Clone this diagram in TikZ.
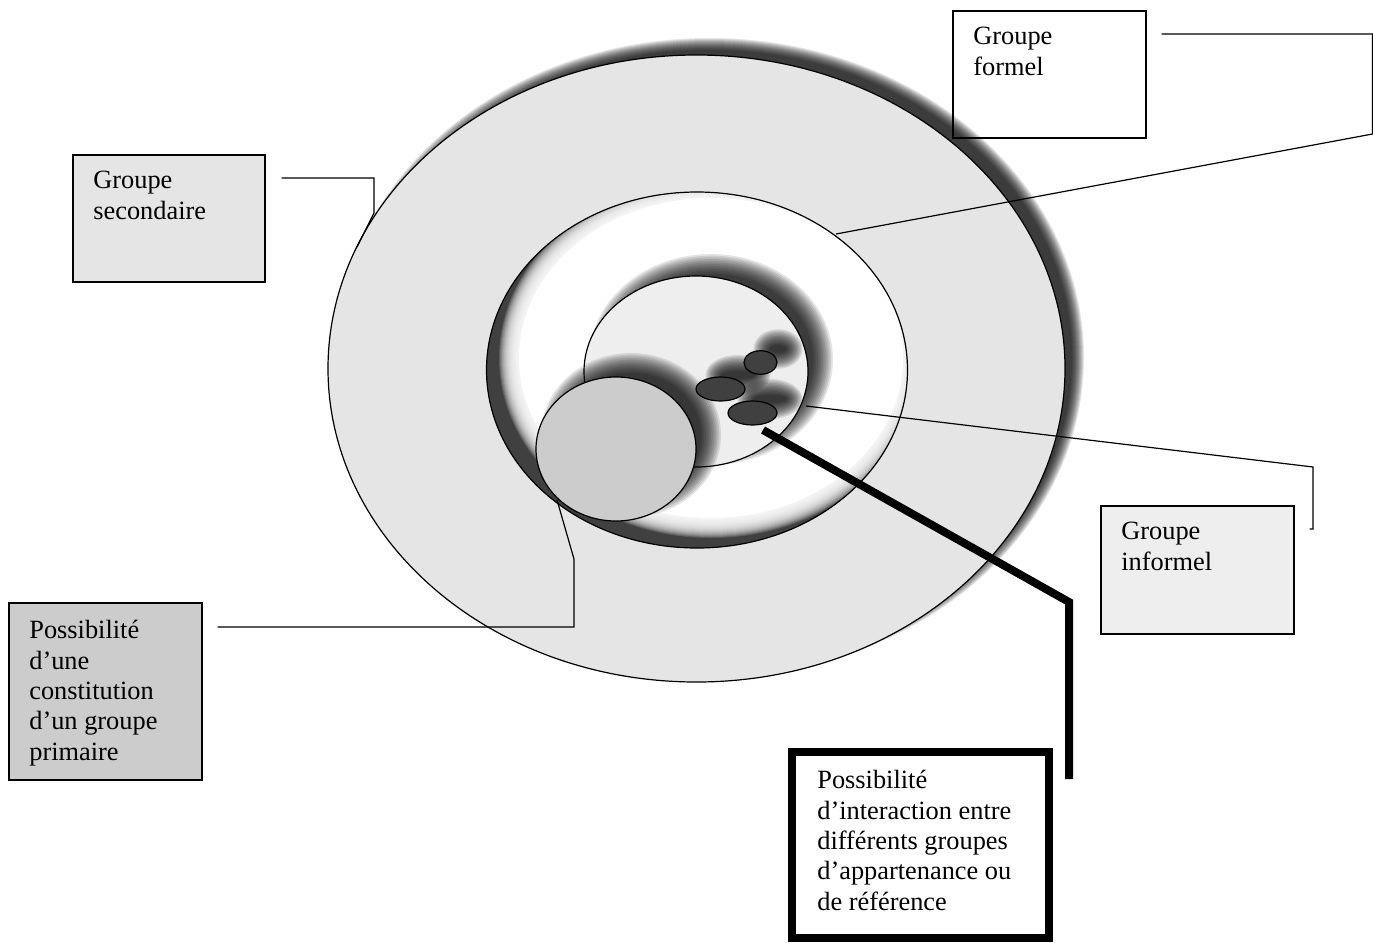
\documentclass[tikz,border=0pt]{standalone}
\usepackage{fontspec}
\setmainfont{Liberation Serif}
\usetikzlibrary{positioning}

\definecolor{outergray}{HTML}{E5E5E5}
\definecolor{innergray}{HTML}{EEEEEE}
\definecolor{primgray}{HTML}{CCCCCC}
\definecolor{dotgray}{HTML}{404040}

% soft shadow: centre x, centre y, x radius, y radius, blur
\newcommand{\softshadow}[5]{%
  \foreach \k in {0,...,12}
    \fill[black, opacity=0.1] (#1,#2) ellipse [x radius={#3+#5-\k*#5/6}, y radius={#4+#5-\k*#5/6}];
}

\begin{document}
\begin{tikzpicture}[x=0.2mm, y=-0.2mm]
\tikzstyle{groupbox}=[rectangle, draw=black, line width=0.3mm, anchor=north west, inner sep=0pt]
\tikzstyle{boxtext}=[align=left, inner sep=0pt, font=\fontsize{15}{17.3}\selectfont]
\tikzstyle{connect}=[line width=0.24mm]
\tikzstyle{ring}=[draw=black, line width=0.24mm]

  \useasboundingbox[fill=white] (0,0) rectangle (1373,942);

  % secondary group
  \softshadow{709.5}{357.5}{368.5}{313.5}{6}
  \path[ring, fill=outergray] (696.5,368.5) ellipse [x radius=368.5, y radius=313.5];

  % formal group
  \begin{scope}
    \clip (697,370) ellipse [x radius=210.5, y radius=178];
    \fill[dotgray] (697,370) ellipse [x radius=210.5, y radius=178];
    \foreach \k in {0,...,20}
      \fill[white, opacity=0.15] (711,358) ellipse [x radius=212-\k, y radius=180-\k];
    \fill[white] (711,358) ellipse [x radius=192, y radius=160];
  \end{scope}
  \draw[ring] (697,370) ellipse [x radius=210.5, y radius=178];

  % informal group
  \softshadow{711}{359.5}{112}{95.5}{10}
  \path[ring, fill=innergray] (696,371.5) ellipse [x radius=112, y radius=95.5];

  % primary group
  \softshadow{631}{435}{80}{72}{10}
  \path[ring, fill=primgray] (616,449) ellipse [x radius=80, y radius=72];

  % small groups
  \softshadow{778}{349}{16.5}{11.8}{8}
  \softshadow{738}{375}{24.5}{12}{8}
  \softshadow{770}{399}{24.5}{12}{8}
  \path[ring, fill=dotgray] (760.5,362.5) ellipse [x radius=16.5, y radius=11.8];
  \path[ring, fill=dotgray] (720.5,389) ellipse [x radius=24.5, y radius=12];
  \path[ring, fill=dotgray] (752.5,413) ellipse [x radius=24.5, y radius=12];

  % boxes
  \node[groupbox, minimum width=38.6mm, minimum height=25.4mm] (formel) at (952,10) {};
  \node[boxtext, below right=3.4mm and 4.2mm of formel.north west] (formeltext) {Groupe\\formel};

  \node[groupbox, fill=outergray, minimum width=38.4mm, minimum height=25.4mm] (secondaire) at (72,154) {};
  \node[boxtext, below right=3.4mm and 4.2mm of secondaire.north west] (secondairetext) {Groupe\\secondaire};

  \node[groupbox, fill=innergray, minimum width=38.6mm, minimum height=25.6mm] (informel) at (1100,505) {};
  \node[boxtext, below right=3.4mm and 4.2mm of informel.north west] (informeltext) {Groupe\\informel};

  \node[groupbox, fill=primgray, minimum width=38.6mm, minimum height=35.4mm] (primaire) at (8,602) {};
  \node[boxtext, below right=3.6mm and 4.2mm of primaire.north west] (primairetext) {Possibilité\\d’une\\constitution\\d’un groupe\\primaire};

  \node[groupbox, line width=1.6mm, minimum width=51.4mm, minimum height=37.2mm] (interaction) at (788,748) {};
  \node[boxtext, below right=4.4mm and 5.8mm of interaction.north west] (interactiontext) {Possibilité\\d’interaction entre\\différents groupes\\d’appartenance ou\\de référence};

  % connectors
  \coordinate (formelend) at (836,234);
  \coordinate (secondend) at (357,247);
  \coordinate (informend) at (806,406);
  \coordinate (primend) at (557,500);
  \coordinate (interend) at (763,430);
  \draw[connect] ([shift={(15,24)}]formel.north east) -| (1372.5,134) -- (formelend);
  \draw[connect] ([shift={(16,24)}]secondaire.north east) -| (374,213) -- (secondend);
  \draw[connect] (informend) -- (1313,467) |- ([shift={(15,24)}]informel.north east);
  \draw[connect] ([shift={(15,25)}]primaire.north east) -| (574,559) -- (primend);
  \draw[line width=1.6mm] (interend) -- (1069,602) -- ([shift={(16,31)}]interaction.north east);
\end{tikzpicture}
\end{document}
